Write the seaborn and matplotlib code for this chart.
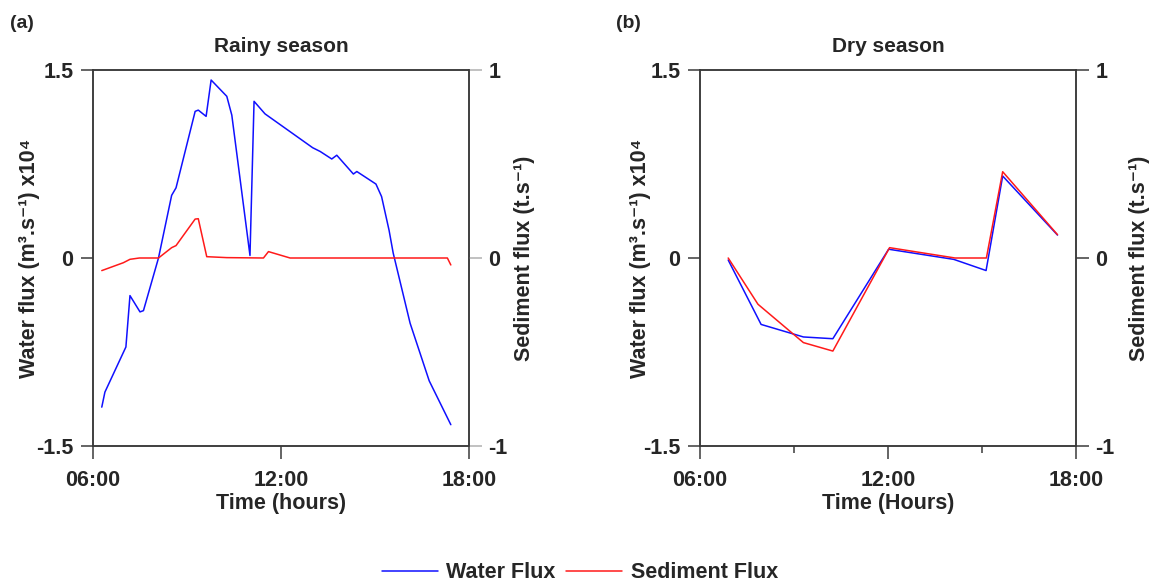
import matplotlib
matplotlib.use("Agg")
import matplotlib.pyplot as plt
import seaborn as sns
import pandas as pd
from matplotlib.ticker import FixedLocator
from matplotlib.lines import Line2D

# ---------------- data ----------------
rainy_water_time = [6.28, 6.38, 7.05, 7.18, 7.50, 7.61, 8.09, 8.51, 8.65, 9.26, 9.36, 9.61,
                    9.77, 10.27, 10.43, 11.01, 11.14, 11.49, 13.01, 13.25, 13.62, 13.78,
                    14.31, 14.42, 15.03, 15.21, 15.45, 15.58, 16.12, 16.73, 17.42]
rainy_water = [-1.19, -1.07, -0.71, -0.30, -0.43, -0.42, 0.0, 0.50, 0.56, 1.17, 1.18, 1.13,
               1.42, 1.29, 1.14, 0.02, 1.25, 1.15, 0.88, 0.85, 0.79, 0.82,
               0.67, 0.69, 0.59, 0.49, 0.22, 0.04, -0.52, -0.98, -1.33]
rainy_sed_time = [6.28, 6.97, 7.18, 7.48, 8.09, 8.51, 8.65, 9.26, 9.36, 9.63, 10.27,
                  11.44, 11.60, 12.29, 17.31, 17.42]
rainy_sed = [-0.067, -0.025, -0.007, 0.0, 0.0, 0.055, 0.066, 0.207, 0.209, 0.007, 0.002,
             0.0, 0.034, 0.0, 0.0, -0.037]

dry_water_time = [6.90, 7.95, 9.30, 10.24, 12.02, 14.10, 15.13, 15.66, 17.41]
dry_water = [-0.016, -0.53, -0.63, -0.644, 0.07, -0.011, -0.10, 0.654, 0.183]
dry_sed_time = [6.90, 7.85, 9.30, 10.24, 12.05, 14.14, 15.14, 15.66, 17.41]
dry_sed = [0.0, -0.246, -0.45, -0.495, 0.055, 0.0, 0.0, 0.459, 0.124]

left_ticks = [-1.5, 0, 1.5]
left_ticklabels = ["-1.5", "0", "1.5"]
right_ticks = [-1, 0, 1]
right_ticklabels = ["-1", "0", "1"]
time_ticks = [6, 12, 18]
time_ticklabels = ["06:00", "12:00", "18:00"]

titles = ["Rainy season", "Dry season"]
xlabels = ["Time (hours)", "Time (Hours)"]
panel_tags = ["(a)", "(b)"]
series_names = ["Water Flux", "Sediment Flux"]
water_label = "Water flux (m³.s⁻¹) x10⁴"
sed_label = "Sediment flux (t.s⁻¹)"

# ---------------- style ----------------
sns.set_style("ticks")
FAMILY = ['Liberation Sans', 'DejaVu Sans']
plt.rcParams['font.family'] = FAMILY
plt.rcParams['font.weight'] = 'bold'
plt.rcParams['axes.labelweight'] = 'bold'
plt.rcParams['axes.titleweight'] = 'bold'

BLUE = "#1010ff"
RED = "#ff1a1a"
SPINE = "#3a3a3a"
FS = 15.5

fig = plt.figure(figsize=(11.53, 5.85), dpi=100)

W, H = 1153, 585
ax_w = 376 / W
ax_h = 376 / H
ax_b = 1 - 446 / H
lefts = [93 / W, 700 / W]

datasets = [
    (rainy_water_time, rainy_water, rainy_sed_time, rainy_sed),
    (dry_water_time, dry_water, dry_sed_time, dry_sed),
]

ylab_left_x = [-0.14, -0.13]
ylab_right_x = [1.12, 1.14]

for i, (wt, wv, st, sv) in enumerate(datasets):
    ax = fig.add_axes([lefts[i], ax_b, ax_w, ax_h])
    ax2 = ax.twinx()

    dfw = pd.DataFrame({"time": wt, "flux": wv})
    dfs = pd.DataFrame({"time": st, "flux": sv})
    sns.lineplot(data=dfw, x="time", y="flux", ax=ax, color=BLUE, lw=1.1,
                 estimator=None, sort=False)
    sns.lineplot(data=dfs, x="time", y="flux", ax=ax2, color=RED, lw=1.1,
                 estimator=None, sort=False)

    ax.set_xlim(6, 18)
    ax.set_ylim(-1.5, 1.5)
    ax2.set_ylim(-1, 1)

    ax.set_xticks(time_ticks)
    ax.set_xticklabels(time_ticklabels)
    if i == 1:
        ax.xaxis.set_minor_locator(FixedLocator([9, 15]))
    ax.set_yticks(left_ticks)
    ax.set_yticklabels(left_ticklabels)
    ax2.set_yticks(right_ticks)
    ax2.set_yticklabels(right_ticklabels)

    for a in (ax, ax2):
        for s in a.spines.values():
            s.set_visible(True)
            s.set_color(SPINE)
            s.set_linewidth(1.1)
        a.tick_params(axis='both', which='major', length=9, width=1.1, color=SPINE,
                      labelsize=FS, pad=5, direction='out')
        a.tick_params(axis='x', which='minor', length=5, width=1.1, color=SPINE,
                      direction='out')
        for lab in a.get_xticklabels() + a.get_yticklabels():
            lab.set_fontweight('bold')
    ax.tick_params(axis='x', pad=8)
    if i == 0:
        ax2.tick_params(axis='y', color="#b0b0b0")

    ax.set_xlabel(xlabels[i], fontsize=FS, fontweight='bold', labelpad=2)
    ax.set_ylabel(water_label, fontsize=FS, fontweight='bold', family=FAMILY)
    ax.yaxis.set_label_coords(ylab_left_x[i], 0.5)
    ax2.set_ylabel(sed_label, fontsize=FS, fontweight='bold', family=FAMILY)
    ax2.yaxis.set_label_coords(ylab_right_x[i], 0.5)
    ax.set_title(titles[i], fontsize=15, fontweight='bold', pad=13)

    fig.text([10 / W, 616 / W][i], 1 - 24 / H, panel_tags[i], fontsize=14,
             fontweight='bold', ha='left', va='center')

handles = [Line2D([], [], color=BLUE, lw=1.1), Line2D([], [], color=RED, lw=1.1)]
fig.legend(handles, series_names, loc='center', bbox_to_anchor=(0.503, 1 - 573 / H),
           ncol=2, frameon=False, prop={'size': FS, 'weight': 'bold'},
           handlelength=2.6, handletextpad=0.4, columnspacing=0.5)

fig.savefig("out.png", dpi=100)
